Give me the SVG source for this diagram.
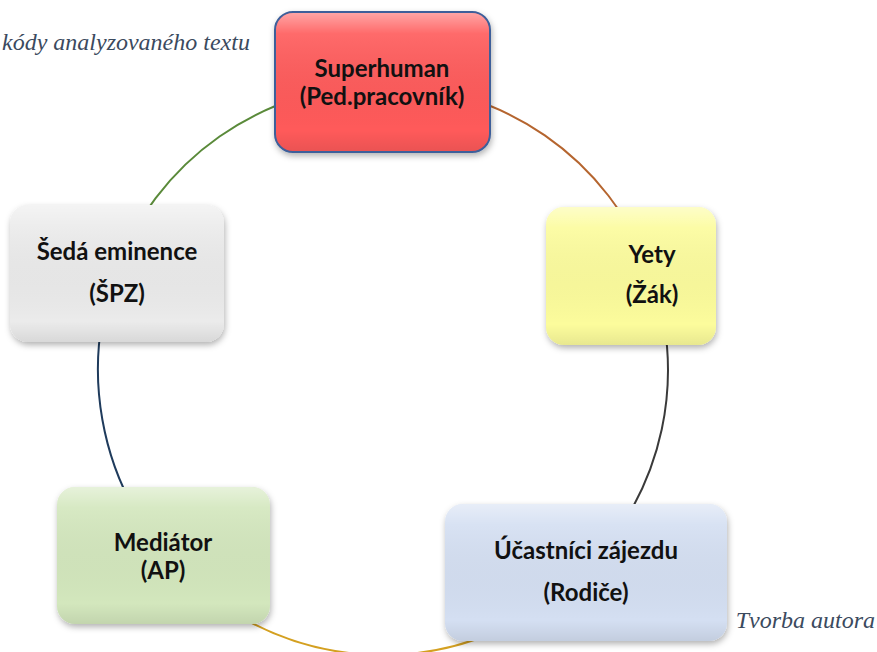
<svg xmlns="http://www.w3.org/2000/svg" width="877" height="652" viewBox="0 0 877 652">
<defs>
<filter id="sh" x="-10%" y="-10%" width="125%" height="130%">
<feDropShadow dx="1" dy="3" stdDeviation="3" flood-color="#000" flood-opacity="0.3"/>
</filter>
<linearGradient id="gloss" x1="0" y1="0" x2="0" y2="1">
<stop offset="0" stop-color="#fff" stop-opacity="0.45"/>
<stop offset="0.15" stop-color="#fff" stop-opacity="0.1"/>
<stop offset="0.85" stop-color="#000" stop-opacity="0"/>
<stop offset="1" stop-color="#000" stop-opacity="0.08"/>
</linearGradient>
</defs>
<style>
.arc{fill:none;stroke-width:2}
.lbl{font-family:Lato,"Open Sans","Liberation Sans",sans-serif;font-weight:bold;font-size:24px;fill:#111;text-anchor:middle}
.note{font-family:"Liberation Serif",serif;font-style:italic;font-size:24px;fill:#3b4a5e}
.gl{fill:url(#gloss)}
</style>
<g id="connectors">
<path class="arc" stroke="#b5652f" d="M383,85 A285,285 0 0 1 649.4,268.8"/>
<path class="arc" stroke="#3a3a3a" d="M649.4,268.8 A285,285 0 0 1 584.9,571.2"/>
<path class="arc" stroke="#d4a020" d="M584.9,571.2 A285,285 0 0 1 164.7,553.2"/>
<path class="arc" stroke="#1f3b5c" d="M164.7,553.2 A285,285 0 0 1 115.2,272.5"/>
<path class="arc" stroke="#5a8a3a" d="M115.2,272.5 A285,285 0 0 1 383,85"/>
</g>
<g id="superhuman">
<rect x="275" y="12" width="215" height="140" rx="18" fill="#ff5a5a" stroke="#3d5f9a" stroke-width="2" filter="url(#sh)"/>
<rect x="276" y="13" width="213" height="138" rx="17" class="gl"/>
<text class="lbl" x="382" y="77">Superhuman</text>
<text class="lbl" x="382" y="105">(Ped.pracovník)</text>
</g>
<g id="yety">
<rect x="546" y="207" width="170" height="138" rx="18" fill="#fcfc9c" filter="url(#sh)"/>
<rect x="546" y="207" width="170" height="138" rx="18" class="gl"/>
<text class="lbl" x="652" y="263">Yety</text>
<text class="lbl" x="652" y="303">(Žák)</text>
</g>
<g id="seda">
<rect x="10" y="205" width="214" height="137" rx="18" fill="#ebebeb" filter="url(#sh)"/>
<rect x="10" y="205" width="214" height="137" rx="18" class="gl"/>
<text class="lbl" x="117" y="260">Šedá eminence</text>
<text class="lbl" x="117" y="302">(ŠPZ)</text>
</g>
<g id="mediator">
<rect x="57" y="487" width="213" height="137" rx="18" fill="#d3e7bd" filter="url(#sh)"/>
<rect x="57" y="487" width="213" height="137" rx="18" class="gl"/>
<text class="lbl" x="163" y="551">Mediátor</text>
<text class="lbl" x="163" y="579">(AP)</text>
</g>
<g id="ucastnici">
<rect x="445" y="504" width="282" height="137" rx="18" fill="#d4dff2" filter="url(#sh)"/>
<rect x="445" y="504" width="282" height="137" rx="18" class="gl"/>
<text class="lbl" x="586" y="559">Účastníci zájezdu</text>
<text class="lbl" x="586" y="601">(Rodiče)</text>
</g>
<text class="note" x="2" y="50" font-size="23">kódy analyzovaného textu</text>
<text class="note" x="875" y="628" text-anchor="end">Tvorba autora</text>
</svg>
